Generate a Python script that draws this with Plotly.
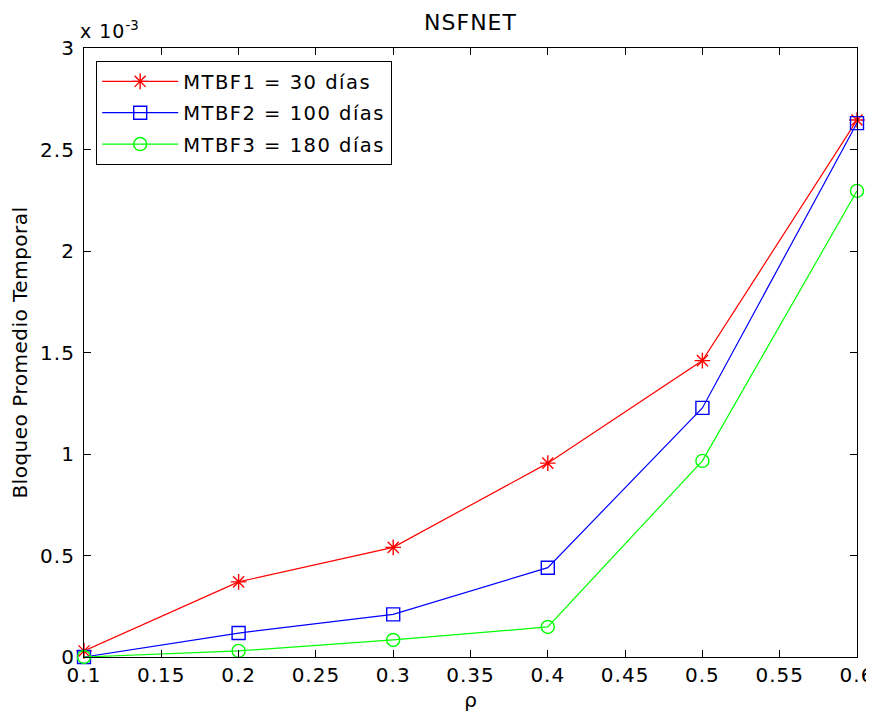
import plotly.graph_objects as go

rho = [0.1, 0.2, 0.3, 0.4, 0.5, 0.6]
# Bloqueo promedio temporal (x 10^-3)
mtbf1 = [0.03, 0.37, 0.54, 0.955, 1.46, 2.645]
mtbf2 = [0.0, 0.118, 0.21, 0.44, 1.227, 2.63]
mtbf3 = [0.0, 0.03, 0.084, 0.148, 0.966, 2.296]
names = ["MTBF1 = 30 días", "MTBF2 = 100 días", "MTBF3 = 180 días"]
colors = ["#ff0000", "#0000ff", "#00ff00"]
symbols = ["asterisk-open", "square-open", "circle-open"]
xticks = [0.1, 0.15, 0.2, 0.25, 0.3, 0.35, 0.4, 0.45, 0.5, 0.55, 0.6]
yticks = [0, 0.5, 1, 1.5, 2, 2.5, 3]


def sp(text, px=1):
    return f"<span style='letter-spacing:{px}px'>{text}</span>"


font = "DejaVu Sans, Verdana, sans-serif"
fig = go.Figure()
for i, ys in enumerate([mtbf1, mtbf2, mtbf3]):
    fig.add_trace(go.Scatter(
        x=rho, y=ys, name=sp(names[i], 1.5), mode="lines+markers",
        legendgroup=str(i),
        line=dict(color=colors[i], width=1.2),
        marker=dict(symbol=symbols[i], size=13, color=colors[i],
                    line=dict(color=colors[i], width=1.4)),
        cliponaxis=False,
    ))

axis_common = dict(showline=True, linecolor="black", linewidth=1.2, mirror="ticks",
                   ticks="inside", ticklen=7, tickcolor="black", showgrid=False,
                   zeroline=False, automargin=False, ticklabeloverflow="allow",
                   tickfont=dict(family=font, size=20, color="black"))
fig.update_xaxes(range=[0.1, 0.6], tickvals=xticks,
                 ticktext=[sp(f"{v:g}", 1) for v in xticks],
                 title=dict(text="ρ", font=dict(family=font, size=20, color="black"), standoff=6),
                 **axis_common)
fig.update_yaxes(range=[0, 3], tickvals=yticks,
                 ticktext=[sp(f"{v:g}", 1) for v in yticks], ticklabelstandoff=4,
                 title=dict(text=sp("Bloqueo Promedio Temporal", 0.5),
                            font=dict(family=font, size=20, color="black"), standoff=14),
                 **axis_common)

fig.add_annotation(text=sp("x 10", 1) + "<sup>-3</sup>", xref="paper", yref="paper", x=0.0, y=1.0,
                   xanchor="left", yanchor="bottom", showarrow=False, yshift=4, xshift=-6,
                   font=dict(family=font, size=19, color="black"))

fig.update_layout(
    width=866, height=711,
    margin=dict(l=76, r=17, t=40, b=62, autoexpand=False),
    paper_bgcolor="white", plot_bgcolor="white",
    title=dict(text=sp("NSFNET", 1), x=0.5, xref="paper", xanchor="center",
               y=1 - 14 / 711, yanchor="middle",
               font=dict(family=font, size=22, color="black")),
    showlegend=True,
    legend=dict(x=0.0155, y=0.9787, xanchor="left", yanchor="top",
                bordercolor="black", borderwidth=1.2, bgcolor="white",
                font=dict(family=font, size=19.5, color="black"),
                tracegroupgap=3, itemwidth=76),
)
fig.write_html("out.html")
